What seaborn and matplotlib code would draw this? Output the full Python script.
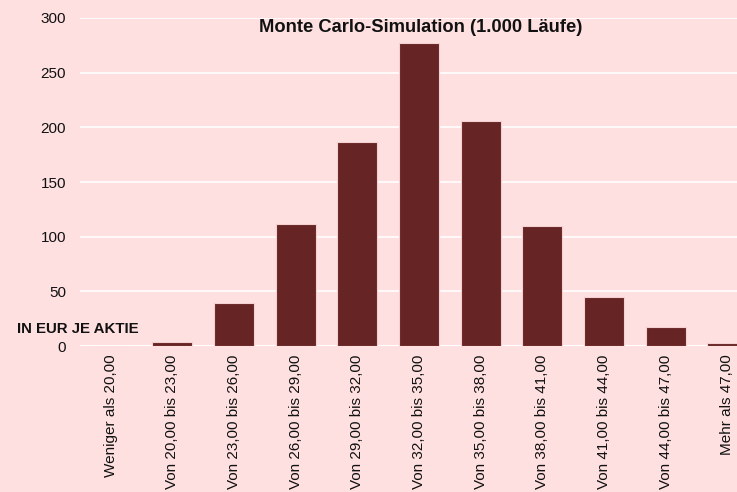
import matplotlib
matplotlib.use("Agg")
import matplotlib.pyplot as plt
import seaborn as sns
import pandas as pd

# Histogram bins and counts
categories = ["Weniger als 20,00", "Von 20,00 bis 23,00", "Von 23,00 bis 26,00",
              "Von 26,00 bis 29,00", "Von 29,00 bis 32,00", "Von 32,00 bis 35,00",
              "Von 35,00 bis 38,00", "Von 38,00 bis 41,00", "Von 41,00 bis 44,00",
              "Von 44,00 bis 47,00", "Mehr als 47,00"]
counts = [0, 4, 39, 112, 187, 277, 206, 110, 45, 17, 3]
yticks = [0, 50, 100, 150, 200, 250, 300]

bg = "#FFE0E0"
bar_color = "#662424"

sns.set_theme(style="white")
plt.rcParams["font.family"] = ["Liberation Sans", "DejaVu Sans"]

df = pd.DataFrame({"bin": categories, "count": counts})

fig = plt.figure(figsize=(7.37, 4.92), dpi=100, facecolor=bg)
ax = fig.add_axes([80 / 737, 1 - 346 / 492, 678 / 737, 328 / 492])
ax.set_facecolor(bg)

sns.barplot(data=df, x="bin", y="count", color=bar_color, width=0.65,
            edgecolor="#f5d0d0", linewidth=0.8, saturation=1, ax=ax, zorder=3)

ax.set_ylim(0, 300)
ax.set_yticks(yticks)
ax.yaxis.grid(True, color="white", linewidth=1.2, zorder=0)
ax.axhline(0, color="white", linewidth=1.5, zorder=2)
for s in ax.spines.values():
    s.set_visible(False)

ax.tick_params(axis="y", labelsize=11, colors="#111111", length=0, pad=10)
ax.tick_params(axis="x", labelsize=11, colors="#111111", length=0, pad=6)
plt.setp(ax.get_xticklabels(), rotation=90, va="top", ha="center")
ax.set_xlabel("")
ax.set_ylabel("")

fig.text(421 / 737, 1 - 27 / 492, "Monte Carlo-Simulation (1.000 Läufe)",
         ha="center", va="center", fontsize=13.2, fontweight="bold", color="#111111")
fig.text(17 / 737, 1 - 329 / 492, "IN EUR JE AKTIE",
         ha="left", va="center", fontsize=10.8, fontweight="bold", color="#111111")

fig.savefig("out.png", dpi=100, facecolor=bg)
